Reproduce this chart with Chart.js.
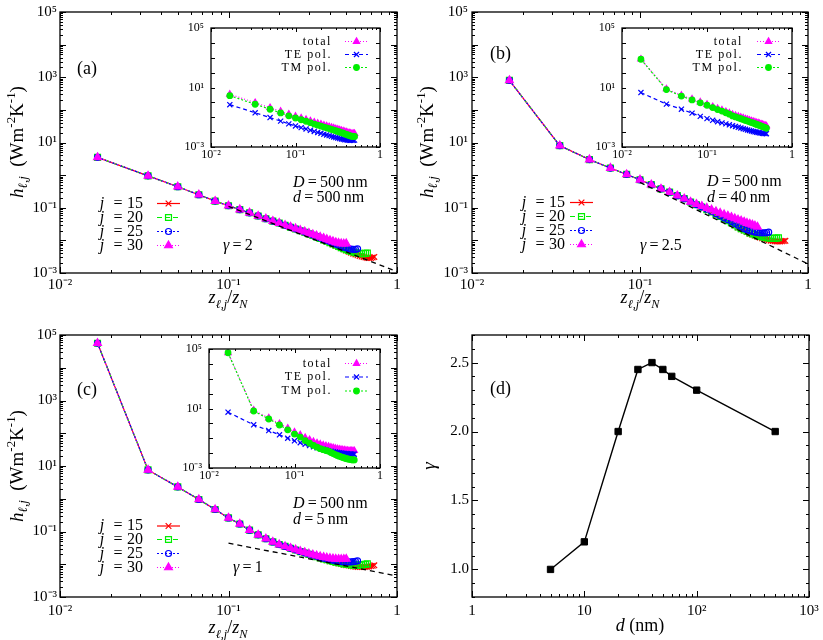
<!DOCTYPE html>
<html>
<head>
<meta charset="utf-8">
<script src="https://cdn.jsdelivr.net/npm/chart.js@4.4.1/dist/chart.umd.min.js"></script>
<style>
  body { margin: 0; background: #fff; }
  #wrap { position: relative; width: 823px; height: 640px; overflow: hidden; font-family: 'Liberation Serif', serif; color: #000; }
  canvas { position: absolute; }
  .t { position: absolute; white-space: nowrap; line-height: 1; font-size: 16px; transform: translateY(-50%); }
  .lab { font-size: 18px; }
  .yt { position: absolute; white-space: nowrap; line-height: 1; font-size: 19px; transform: translate(-50%, -50%) rotate(-90deg); }
  .xt { position: absolute; white-space: nowrap; line-height: 1; font-size: 18px; transform: translate(-50%, -50%); }
  sub, sup { font-size: 68%; line-height: 0; }
</style>
</head>
<body>
<div id="wrap">
  <canvas id="pa" width="410" height="310" style="left:0;top:0"></canvas>
  <canvas id="pb" width="413" height="310" style="left:410px;top:0"></canvas>
  <canvas id="pc" width="410" height="330" style="left:0;top:310px"></canvas>
  <canvas id="pd" width="413" height="330" style="left:410px;top:310px"></canvas>
  <canvas id="ia" width="210" height="150" style="left:180px;top:18px"></canvas>
  <canvas id="ib" width="210" height="150" style="left:591px;top:18px"></canvas>
  <canvas id="ic" width="210" height="150" style="left:178px;top:339px"></canvas>

  <div class="yt" style="left:16px;top:142px"><i>h</i><sub><i>ℓ,j</i></sub>&nbsp;&nbsp;(Wm<sup>-2</sup>K<sup>-1</sup>)</div>
  <div class="yt" style="left:426px;top:142px"><i>h</i><sub><i>ℓ,j</i></sub>&nbsp;&nbsp;(Wm<sup>-2</sup>K<sup>-1</sup>)</div>
  <div class="yt" style="left:16px;top:466px"><i>h</i><sub><i>ℓ,j</i></sub>&nbsp;&nbsp;(Wm<sup>-2</sup>K<sup>-1</sup>)</div>
  <div class="yt" style="left:428px;top:466px"><i>γ</i></div>

  <div class="xt" style="left:228px;top:297px"><i>z</i><sub><i>ℓ,j</i></sub>/<i>z</i><sub><i>N</i></sub></div>
  <div class="xt" style="left:640px;top:297px"><i>z</i><sub><i>ℓ,j</i></sub>/<i>z</i><sub><i>N</i></sub></div>
  <div class="xt" style="left:228px;top:627px"><i>z</i><sub><i>ℓ,j</i></sub>/<i>z</i><sub><i>N</i></sub></div>
  <div class="xt" style="left:640px;top:625px"><i>d</i>&nbsp;(nm)</div>

  <div class="t lab" style="left:77px;top:68px">(a)</div>
  <div class="t lab" style="left:490px;top:53px">(b)</div>
  <div class="t lab" style="left:77px;top:389px">(c)</div>
  <div class="t lab" style="left:490px;top:388px">(d)</div>

  <div class="t" style="left:293px;top:182px"><i>D</i>&thinsp;=&thinsp;500&thinsp;nm</div>
  <div class="t" style="left:293px;top:197px"><i>d</i>&thinsp;=&thinsp;500&thinsp;nm</div>
  <div class="t" style="left:707px;top:181px"><i>D</i>&thinsp;=&thinsp;500&thinsp;nm</div>
  <div class="t" style="left:707px;top:197px"><i>d</i>&thinsp;=&thinsp;40&thinsp;nm</div>
  <div class="t" style="left:293px;top:503px"><i>D</i>&thinsp;=&thinsp;500&thinsp;nm</div>
  <div class="t" style="left:293px;top:519px"><i>d</i>&thinsp;=&thinsp;5&thinsp;nm</div>

  <div class="t" style="left:223px;top:245px"><i>γ</i>&thinsp;=&thinsp;2</div>
  <div class="t" style="left:640px;top:245px"><i>γ</i>&thinsp;=&thinsp;2.5</div>
  <div class="t" style="left:233px;top:567px"><i>γ</i>&thinsp;=&thinsp;1</div>
</div>

<script>
// layer positions z_{l,j}/z_N (shared by all curves)
const zGrid = [0.0167, 0.0333, 0.05, 0.0667, 0.0833, 0.1, 0.1167, 0.1333, 0.15, 0.1667,
  0.1833, 0.2, 0.2167, 0.2333, 0.25, 0.2667, 0.2833, 0.3, 0.3167, 0.3333,
  0.35, 0.3667, 0.3833, 0.4, 0.4167, 0.4333, 0.45, 0.4667, 0.4833, 0.5,
  0.5167, 0.5333, 0.55, 0.5667, 0.5833, 0.6, 0.6167, 0.6333, 0.65, 0.6667,
  0.6833, 0.7, 0.7167, 0.7333];

// panel (a), d = 500 nm
const aHead = [3.5, 0.95, 0.44, 0.25, 0.16, 0.115, 0.088, 0.07, 0.056, 0.046, 0.039, 0.034];
const aTail30 = [0.029, 0.026, 0.023, 0.0205, 0.0185, 0.0167, 0.0152, 0.0139, 0.0127, 0.0117, 0.0108, 0.01, 0.0093, 0.0087, 0.0083, 0.008, 0.0079, 0.008];
const aTail25 = [0.029, 0.0255, 0.0226, 0.0201, 0.018, 0.0162, 0.0146, 0.0132, 0.012, 0.0109, 0.0099, 0.0091, 0.0083, 0.0077, 0.0071, 0.0066, 0.0062, 0.0059, 0.0056, 0.0054, 0.0053, 0.0053, 0.0055];
const aTail20 = [0.0288, 0.0253, 0.0224, 0.0198, 0.0177, 0.0158, 0.0142, 0.0128, 0.0115, 0.0104, 0.0094, 0.0085, 0.0078, 0.0071, 0.0065, 0.006, 0.0056, 0.0052, 0.0049, 0.0046, 0.0044, 0.0042, 0.0041, 0.004, 0.0039, 0.0039, 0.004, 0.0041];
const aTail15 = [0.0287, 0.0252, 0.0222, 0.0196, 0.0175, 0.0156, 0.014, 0.0126, 0.0113, 0.0102, 0.0092, 0.0083, 0.0076, 0.0069, 0.0063, 0.0058, 0.0053, 0.0049, 0.0045, 0.0042, 0.0039, 0.0037, 0.0035, 0.0033, 0.0032, 0.0031, 0.003, 0.0029, 0.0029, 0.0029, 0.003, 0.0031];
const aInsetTE = [0.7, 0.2, 0.095, 0.055, 0.036, 0.026, 0.02, 0.0163, 0.0133, 0.0111, 0.0095, 0.0083, 0.0073, 0.0065, 0.0058, 0.0052, 0.0047, 0.0043, 0.004, 0.0037, 0.0035, 0.0033, 0.0031, 0.003, 0.0029, 0.0028, 0.0028, 0.0028, 0.0028, 0.0029];
const aInsetTM = [2.8, 0.75, 0.345, 0.195, 0.124, 0.089, 0.068, 0.054, 0.043, 0.035, 0.0295, 0.0257, 0.0217, 0.0195, 0.0172, 0.0153, 0.0138, 0.0124, 0.0112, 0.0102, 0.0092, 0.0084, 0.0077, 0.007, 0.0064, 0.0059, 0.0055, 0.0052, 0.0051, 0.0051];
const aGuide = [0.11, 0.0011];

// panel (b), d = 40 nm
const bHead = [800, 8.0, 3.0, 1.65, 1.05, 0.72, 0.51, 0.38, 0.3, 0.235, 0.19, 0.15];
const bTail30 = [0.129, 0.112, 0.098, 0.087, 0.077, 0.069, 0.062, 0.0565, 0.0515, 0.047, 0.043, 0.04, 0.037, 0.034, 0.032, 0.03, 0.028, 0.026];
const bTail25 = [0.125, 0.106, 0.09, 0.077, 0.066, 0.057, 0.049, 0.043, 0.038, 0.033, 0.029, 0.026, 0.023, 0.021, 0.02, 0.019, 0.018, 0.0175, 0.017, 0.017, 0.017, 0.0172, 0.0178];
const bTail20 = [0.124, 0.104, 0.088, 0.074, 0.063, 0.054, 0.046, 0.04, 0.035, 0.03, 0.026, 0.023, 0.021, 0.019, 0.017, 0.016, 0.015, 0.014, 0.0135, 0.013, 0.0125, 0.012, 0.0118, 0.0116, 0.0115, 0.0115, 0.0117, 0.012];
const bTail15 = [0.123, 0.103, 0.087, 0.073, 0.062, 0.053, 0.045, 0.039, 0.034, 0.029, 0.025, 0.022, 0.02, 0.018, 0.016, 0.015, 0.014, 0.013, 0.0122, 0.0116, 0.011, 0.0105, 0.0101, 0.0098, 0.0096, 0.0094, 0.0093, 0.0093, 0.0093, 0.0094, 0.0095, 0.0097];
const bInsetTE = [4.6, 0.76, 0.35, 0.19, 0.115, 0.081, 0.062, 0.05, 0.042, 0.036, 0.031, 0.027, 0.024, 0.021, 0.019, 0.017, 0.0155, 0.014, 0.013, 0.012, 0.011, 0.0105, 0.0099, 0.0094, 0.009, 0.0086, 0.0083, 0.0081, 0.0079, 0.0078];
const bInsetTM = [795, 7.2, 2.65, 1.46, 0.935, 0.64, 0.45, 0.33, 0.26, 0.2, 0.16, 0.123, 0.105, 0.091, 0.079, 0.07, 0.0615, 0.055, 0.049, 0.0445, 0.0405, 0.0365, 0.0331, 0.0306, 0.028, 0.0254, 0.0236, 0.0219, 0.0201, 0.0182];
const bGuide = [0.6, 0.0019];

// panel (c), d = 5 nm
const cHead = [56000, 7.6, 2.3, 0.95, 0.47, 0.26, 0.17, 0.11, 0.079, 0.06, 0.048, 0.04];
const cTail30 = [0.035, 0.031, 0.028, 0.025, 0.023, 0.021, 0.0195, 0.0183, 0.0173, 0.0165, 0.0158, 0.0152, 0.0148, 0.0145, 0.0143, 0.0142, 0.0143, 0.0145];
const cTail25 = [0.035, 0.031, 0.0275, 0.0247, 0.0224, 0.0205, 0.0189, 0.0175, 0.0163, 0.0153, 0.0145, 0.0138, 0.0132, 0.0127, 0.0123, 0.012, 0.0118, 0.0117, 0.0117, 0.0118, 0.012, 0.0123, 0.0127];
const cTail20 = [0.035, 0.0308, 0.0273, 0.0244, 0.022, 0.0201, 0.0184, 0.017, 0.0157, 0.0146, 0.0137, 0.0129, 0.0122, 0.0116, 0.0111, 0.0107, 0.0103, 0.01, 0.0098, 0.0096, 0.0095, 0.0094, 0.0094, 0.0095, 0.0096, 0.0098, 0.01, 0.0103];
const cTail15 = [0.0349, 0.0307, 0.0272, 0.0242, 0.0218, 0.0198, 0.0181, 0.0166, 0.0153, 0.0142, 0.0132, 0.0124, 0.0117, 0.0111, 0.0106, 0.0101, 0.0097, 0.0094, 0.0091, 0.0088, 0.0086, 0.0084, 0.0083, 0.0082, 0.0082, 0.0082, 0.0083, 0.0084, 0.0086, 0.0088, 0.009, 0.0093];
const cInsetTE = [5.6, 0.8, 0.33, 0.17, 0.1, 0.067, 0.05, 0.04, 0.032, 0.027, 0.023, 0.02, 0.018, 0.016, 0.0145, 0.0135, 0.0126, 0.0118, 0.0112, 0.0107, 0.0103, 0.0099, 0.0096, 0.0093, 0.0091, 0.0089, 0.0088, 0.0087, 0.0086, 0.0085];
const cInsetTM = [56000, 6.8, 1.97, 0.78, 0.37, 0.19, 0.12, 0.07, 0.047, 0.033, 0.025, 0.02, 0.017, 0.015, 0.0135, 0.011, 0.0093, 0.008, 0.007, 0.0062, 0.0056, 0.0051, 0.0047, 0.0044, 0.0041, 0.0039, 0.0037, 0.0036, 0.0035, 0.0035];
const cGuide = [0.044, 0.0044];

const guideX = [0.1, 1];

// panel (d): exponent gamma vs film thickness
const dNm = [5, 10, 20, 30, 40, 50, 60, 100, 500];
const gammaFit = [1.0, 1.2, 2.0, 2.45, 2.5, 2.45, 2.4, 2.3, 2.0];

// tick labels
const zTickVals = [0.01, 0.1, 1];
const zTickText = ['10⁻²', '10⁻¹', '1'];
const hTickVals = [1e-3, 1e-1, 1e1, 1e3, 1e5];
const hTickText = ['10⁻³', '10⁻¹', '10¹', '10³', '10⁵'];
const insetHVals = [1e-3, 1e1, 1e5];
const insetHText = ['10⁻³', '10¹', '10⁵'];
const dTickVals = [1, 10, 100, 1000];
const dTickText = ['1', '10', '10²', '10³'];
const gTickVals = [1.0, 1.5, 2.0, 2.5];
const gTickText = ['1.0', '1.5', '2.0', '2.5'];
const jLabels = ['15', '20', '25', '30'];
const polLabels = ['total', 'TE pol.', 'TM pol.'];

Chart.defaults.font.family = "'Liberation Serif', serif";
Chart.defaults.color = '#000';

const RED = '#ff0000', GREEN = '#00ee00', BLUE = '#0000ff', MAG = '#ff00ff';
const NONE = 'rgba(0,0,0,0)';

const pts = (xs, ys) => ys.map((y, i) => ({ x: xs[i], y }));

function logTicks(lo, hi, minor) {
  const out = [];
  for (let e = lo; e <= hi; e++) {
    const b = Math.pow(10, e);
    out.push({ value: b });
    if (minor && e < hi) for (let m = 2; m <= 9; m++) out.push({ value: m * b });
  }
  return out;
}

function axis(type, min, max, tickList, vals, texts, size, thick, pad) {
  return {
    type, min, max,
    grid: { display: false, drawTicks: false },
    border: { display: false },
    ticks: {
      autoSkip: false, maxRotation: 0, minRotation: 0, padding: pad,
      font: { size }, color: '#000',
      callback: (v) => {
        const i = vals.findIndex(t => Math.abs(v / t - 1) < 1e-6);
        return i < 0 ? '' : texts[i];
      }
    },
    afterBuildTicks: (s) => { s.ticks = tickList.map(t => ({ value: t.value })); },
    afterFit: (s) => {
      if (s.isHorizontal()) s.height = thick; else s.width = thick;
      s.paddingLeft = s.paddingRight = s.paddingTop = s.paddingBottom = 0;
    }
  };
}

// gnuplot-like frame with inward ticks on all four sides
function frame(major, minor) {
  return {
    id: 'frame',
    afterDatasetsDraw(chart) {
      const { ctx, chartArea: a } = chart;
      ctx.save();
      ctx.strokeStyle = '#000';
      ctx.lineWidth = 1;
      ctx.beginPath();
      const isBig = (s, t) => {
        if (t.label) return true;
        if (s.type !== 'logarithmic') return false;
        const e = Math.log10(t.value);
        return Math.abs(e - Math.round(e)) < 1e-6;
      };
      const sx = chart.scales.x, sy = chart.scales.y;
      sx.ticks.forEach(t => {
        const p = Math.round(sx.getPixelForValue(t.value)) + 0.5;
        if (p < a.left - 1 || p > a.right + 1) return;
        const l = isBig(sx, t) ? major : minor;
        ctx.moveTo(p, a.bottom); ctx.lineTo(p, a.bottom - l);
        ctx.moveTo(p, a.top); ctx.lineTo(p, a.top + l);
      });
      sy.ticks.forEach(t => {
        const p = Math.round(sy.getPixelForValue(t.value)) + 0.5;
        if (p < a.top - 1 || p > a.bottom + 1) return;
        const l = isBig(sy, t) ? major : minor;
        ctx.moveTo(a.left, p); ctx.lineTo(a.left + l, p);
        ctx.moveTo(a.right, p); ctx.lineTo(a.right - l, p);
      });
      ctx.stroke();
      ctx.lineWidth = 1.3;
      ctx.strokeRect(a.left, a.top, a.right - a.left, a.bottom - a.top);
      ctx.restore();
    }
  };
}

// gnuplot-like key: text right aligned, then a line sample with its marker
function key(o) {
  return {
    id: 'key',
    afterDraw(chart) {
      const ctx = chart.ctx;
      ctx.save();
      ctx.textBaseline = 'middle';
      o.items.forEach((it, i) => {
        const y = o.rows[i];
        const ds = chart.data.datasets[it.ds];
        ctx.fillStyle = '#000';
        ctx.font = o.size + "px 'Liberation Serif'";
        if (o.jForm) {
          ctx.textAlign = 'right';
          ctx.fillText(it.text, o.right, y);
          ctx.textAlign = 'center';
          ctx.fillText('=', o.right - 25, y);
          ctx.font = 'italic ' + o.size + "px 'Liberation Serif'";
          ctx.fillText('j', o.right - 41, y);
        } else {
          if ('letterSpacing' in ctx) ctx.letterSpacing = o.spacing;
          ctx.textAlign = 'right';
          ctx.fillText(it.text, o.right, y);
          if ('letterSpacing' in ctx) ctx.letterSpacing = '0px';
        }
        ctx.strokeStyle = ds.borderColor;
        ctx.lineWidth = ds.borderWidth;
        ctx.setLineDash(ds.borderDash || []);
        ctx.beginPath(); ctx.moveTo(o.x0, y); ctx.lineTo(o.x1, y); ctx.stroke();
        ctx.setLineDash([]);
        ctx.fillStyle = ds.pointBackgroundColor;
        ctx.strokeStyle = ds.pointBorderColor;
        ctx.lineWidth = ds.pointBorderWidth;
        Chart.helpers.drawPoint(ctx, { pointStyle: ds.pointStyle, radius: ds.pointRadius, borderWidth: ds.pointBorderWidth, rotation: 0 }, (o.x0 + o.x1) / 2, y);
      });
      ctx.restore();
    }
  };
}

function line(xs, ys, color, dash, marker, fill, r, order, bw) {
  return {
    data: pts(xs, ys), order,
    borderColor: color, borderWidth: bw || 1.2, borderDash: dash,
    pointStyle: marker, pointRadius: r, pointBorderWidth: 1.2,
    pointBorderColor: color, pointBackgroundColor: fill, tension: 0
  };
}

function jSets(y15, y20, y25, y30, guide) {
  return [
    { data: pts(guideX, guide), borderColor: '#000', borderWidth: 1.3, borderDash: [5, 4], pointRadius: 0, order: 0 },
    line(zGrid, y15, RED, [], 'crossRot', RED, 4, 4),
    line(zGrid, y20, GREEN, [5, 3], 'rect', NONE, 4.2, 3),
    line(zGrid, y25, BLUE, [2, 2], 'circle', NONE, 3, 2),
    line(zGrid, y30, MAG, [1, 2], 'triangle', MAG, 4.5, 1)
  ];
}

function polSets(total, te, tm) {
  return [
    line(zGrid, total, MAG, [1, 2], 'triangle', MAG, 3.6, 2),
    line(zGrid, te, BLUE, [4, 3], 'crossRot', BLUE, 3.6, 1),
    line(zGrid, tm, GREEN, [2, 2], 'circle', GREEN, 2.8, 0)
  ];
}

function make(id, datasets, xs, ys, pad, extra) {
  return new Chart(document.getElementById(id), {
    type: 'line',
    data: { datasets },
    options: {
      responsive: false, animation: false, devicePixelRatio: 1, events: [],
      layout: { padding: pad },
      plugins: { legend: { display: false }, tooltip: { enabled: false } },
      scales: { x: xs, y: ys }
    },
    plugins: extra
  });
}

const zTicks = logTicks(-2, 0, true);
const hTicks = logTicks(-3, 5, true);
const hInsetTicks = logTicks(-3, 5, false);
const jItems = jLabels.map((t, i) => ({ ds: i + 1, text: t }));
const polItems = polLabels.map((t, i) => ({ ds: i, text: t }));

// main panels
make('pa', jSets(aHead.concat(aTail15), aHead.concat(aTail20), aHead.concat(aTail25), aHead.concat(aTail30), aGuide),
  axis('logarithmic', 0.01, 1, zTicks, zTickVals, zTickText, 15, 37, 3),
  axis('logarithmic', 1e-3, 1e5, hTicks, hTickVals, hTickText, 15, 60, 3),
  { left: 0, top: 12, right: 13, bottom: 0 },
  [frame(6, 3), key({ items: jItems, jForm: true, size: 16, right: 143, rows: [203.5, 217.5, 231.5, 245.5], x0: 157, x1: 180 })]);

make('pb', jSets(bHead.concat(bTail15), bHead.concat(bTail20), bHead.concat(bTail25), bHead.concat(bTail30), bGuide),
  axis('logarithmic', 0.01, 1, zTicks, zTickVals, zTickText, 15, 37, 3),
  axis('logarithmic', 1e-3, 1e5, hTicks, hTickVals, hTickText, 15, 62, 4),
  { left: 0, top: 12, right: 15, bottom: 0 },
  [frame(6, 3), key({ items: jItems, jForm: true, size: 16, right: 155, rows: [202.5, 216.5, 230.5, 244.5], x0: 160, x1: 183 })]);

make('pc', jSets(cHead.concat(cTail15), cHead.concat(cTail20), cHead.concat(cTail25), cHead.concat(cTail30), cGuide),
  axis('logarithmic', 0.01, 1, zTicks, zTickVals, zTickText, 15, 43, 5),
  axis('logarithmic', 1e-3, 1e5, hTicks, hTickVals, hTickText, 15, 60, 3),
  { left: 0, top: 25, right: 13, bottom: 0 },
  [frame(6, 3), key({ items: jItems, jForm: true, size: 16, right: 143, rows: [216, 229.5, 243.5, 257.5], x0: 157, x1: 180 })]);

const gTicks = [];
for (let v = 8; v <= 27; v++) gTicks.push({ value: v / 10 });
make('pd', [{ data: pts(dNm, gammaFit), borderColor: '#000', borderWidth: 1.4, pointStyle: 'rect', pointRadius: 4.5,
    pointBorderWidth: 1, pointBorderColor: '#000', pointBackgroundColor: '#000', tension: 0 }],
  axis('logarithmic', 1, 1000, logTicks(0, 3, true), dTickVals, dTickText, 15, 43, 5),
  axis('linear', 0.8, 2.7, gTicks, gTickVals, gTickText, 15, 62, 3),
  { left: 0, top: 25, right: 14, bottom: 0 },
  [frame(6, 3)]);

// insets: TE / TM split of the j = 30 curve
const insetKey = (right, rows, x0) => key({ items: polItems, size: 12, spacing: '1.6px', right, rows, x0, x1: x0 + 23 });

make('ia', polSets(aHead.concat(aTail30), aInsetTE, aInsetTM),
  axis('logarithmic', 0.01, 1, zTicks, zTickVals, zTickText, 12, 21, 1),
  axis('logarithmic', 1e-3, 1e5, hInsetTicks, insetHVals, insetHText, 12, 31, 7),
  { left: 0, top: 10, right: 10, bottom: 0 },
  [frame(4, 2), insetKey(152, [23.5, 36.5, 49.5], 165)]);

make('ib', polSets(bHead.concat(bTail30), bInsetTE, bInsetTM),
  axis('logarithmic', 0.01, 1, zTicks, zTickVals, zTickText, 12, 21, 1),
  axis('logarithmic', 1e-3, 1e5, hInsetTicks, insetHVals, insetHText, 12, 31, 7),
  { left: 0, top: 10, right: 9, bottom: 0 },
  [frame(4, 2), insetKey(152, [23.5, 36.5, 49.5], 166)]);

make('ic', polSets(cHead.concat(cTail30), cInsetTE, cInsetTM),
  axis('logarithmic', 0.01, 1, zTicks, zTickVals, zTickText, 12, 21, 1),
  axis('logarithmic', 1e-3, 1e5, hInsetTicks, insetHVals, insetHText, 12, 31, 7),
  { left: 0, top: 10, right: 8, bottom: 0 },
  [frame(4, 2), insetKey(154, [24.5, 38, 52], 167)]);
</script>
</body>
</html>
